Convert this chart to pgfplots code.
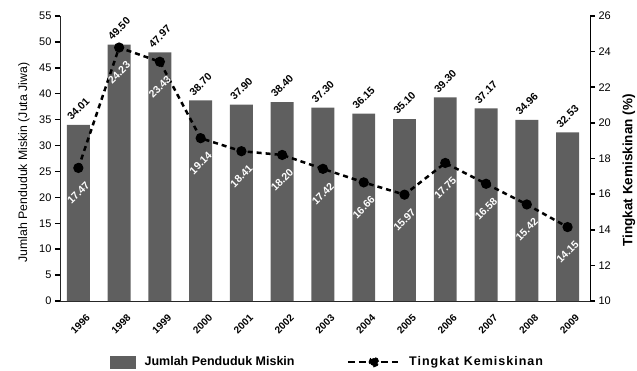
\documentclass[border=0pt]{standalone}
\usepackage{pgfplots}
\pgfplotsset{compat=1.18}
\usepackage{pgfplotstable}
\usepackage{fontspec}
\setmainfont{Liberation Sans}
\newfontfamily\spacedfont[LetterSpace=8]{Liberation Sans}
\definecolor{barc}{HTML}{5F5F5F}
\pgfplotstableread{
x y l
0 34.01 34.01
1 49.50 49.50
2 47.97 47.97
3 38.70 38.70
4 37.90 37.90
5 38.40 38.40
6 37.30 37.30
7 36.15 36.15
8 35.10 35.10
9 39.30 39.30
10 37.17 37.17
11 34.96 34.96
12 32.53 32.53
}\jumlah
\pgfplotstableread{
x y l
0 17.47 17.47
1 24.23 24.23
2 23.43 23.43
3 19.14 19.14
4 18.41 18.41
5 18.20 18.20
6 17.42 17.42
7 16.66 16.66
8 15.97 15.97
9 17.75 17.75
10 16.58 16.58
11 15.42 15.42
12 14.15 14.15
}\tingkat
\begin{document}
\begin{tikzpicture}
\useasboundingbox (-60pt,-69pt) rectangle (577pt,301pt);
\begin{axis}[
  at={(0,0)}, anchor=south west,
  width=530pt, height=285pt, scale only axis,
  xmin=-0.45, xmax=12.55,
  ymin=0, ymax=55,
  ytick={0,5,...,55},
  axis x line*=bottom, axis y line*=left,
  axis line style={line width=0.9pt, -, black!85},
  xtick={0,...,12},
  xticklabels={1996,1998,1999,2000,2001,2002,2003,2004,2005,2006,2007,2008,2009},
  xticklabel style={xshift=2pt, yshift=-18pt, anchor=center, rotate=45, font=\bfseries\fontsize{10}{12}\selectfont},
  major x tick style={draw=none},
  tick align=outside,
  major tick length=5pt,
  ytick style={line width=1.5pt, black},
  yticklabel style={font=\fontsize{11}{13}\selectfont},
  /pgf/number format/assume math mode=true,
  ylabel={Jumlah Penduduk Miskin (Juta Jiwa)},
  ylabel style={at={(axis description cs:-0.068,0.486)}, anchor=center, rotate=0, font=\fontsize{12.3}{14}\selectfont},
]
\addplot[ybar, bar width=0.563, fill=barc, draw=none]
  table[x=x, y=y] {\jumlah};
\pgfplotsinvokeforeach{0,...,12}{
  \pgfplotstablegetelem{#1}{y}\of\jumlah
  \let\yv\pgfplotsretval
  \pgfplotstablegetelem{#1}{l}\of\jumlah
  \expandafter\xdef\csname blab#1\endcsname{\pgfplotsretval}
  \edef\tmp{\noexpand\coordinate (b#1) at (axis cs:#1,\yv);}
  \tmp
}
\end{axis}
\begin{axis}[
  at={(0,0)}, anchor=south west,
  width=530pt, height=285pt, scale only axis,
  xmin=-0.45, xmax=12.55,
  ymin=10, ymax=26,
  ytick={10,12,...,26},
  axis x line=none, axis y line*=right,
  axis line style={line width=0.9pt, -, black},
  tick align=outside,
  major tick length=5pt,
  ytick style={line width=1.5pt, black},
  yticklabel style={font=\fontsize{11}{13}\selectfont},
  /pgf/number format/assume math mode=true,
  ylabel={Tingkat Kemiskinan (\%)},
  ylabel style={at={(axis description cs:1.0736,0.458)}, anchor=center, rotate=0, font=\bfseries\fontsize{13.5}{15}\selectfont},
  legend style={at={(0.0943,-0.214)}, anchor=west, draw=none, fill=none, inner sep=0pt,
    font=\bfseries\fontsize{12.5}{14}\selectfont,
    /tikz/every even column/.append style={column sep=50pt}},
  legend columns=2,
  legend cell align=left,
]
\addlegendimage{legend image code/.code={\fill[barc] (0pt,-6pt) rectangle (25pt,6pt); \path (32pt,0pt);}}
\addlegendentry{Jumlah Penduduk Miskin}
\addplot[black, line width=2.5pt, dash pattern=on 5pt off 4pt, mark=*, mark size=3.8pt, mark options={solid},
  legend image code/.code={\draw[black, line width=2.6pt, dash pattern=on 7pt off 4pt] (0pt,0pt) -- (50pt,0pt); \fill[black] (26pt,0pt) circle (4pt); \path (58pt,0pt);}]
  table[x=x, y=y] {\tingkat};
\addlegendentry{\spacedfont\bfseries\fontsize{12.5}{14}\selectfont Tingkat Kemiskinan}
\pgfplotsinvokeforeach{0,...,12}{
  \pgfplotstablegetelem{#1}{y}\of\tingkat
  \let\yv\pgfplotsretval
  \pgfplotstablegetelem{#1}{l}\of\tingkat
  \expandafter\xdef\csname rlab#1\endcsname{\pgfplotsretval}
  \edef\tmp{\noexpand\coordinate (r#1) at (axis cs:#1,\yv);}
  \tmp
}
\end{axis}
\foreach \i in {0,...,12}{
  \node[xshift=0pt, yshift=16pt, anchor=center, rotate=45, font=\bfseries\fontsize{10.5}{12}\selectfont] at (b\i) {\csname blab\i\endcsname};
  \node[xshift=0pt, yshift=-25pt, anchor=center, rotate=45, font=\bfseries\fontsize{10.5}{12}\selectfont] at (r\i) {\color{white}\csname rlab\i\endcsname};
}
\end{tikzpicture}
\end{document}
